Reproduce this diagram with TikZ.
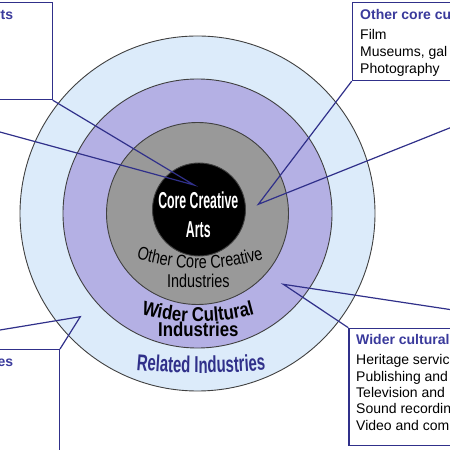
\documentclass[tikz,border=0pt]{standalone}
\usepackage{fontspec}
\setmainfont{Liberation Sans}
\newfontfamily\narrowsans[FakeStretch=0.78]{Liberation Sans}
\newfontfamily\widersans[FakeStretch=0.84]{Liberation Sans}
\newfontfamily\relatedsans[FakeStretch=0.65]{Liberation Sans}
\newfontfamily\coresans[FakeStretch=0.535]{Liberation Sans}
\usetikzlibrary{positioning, decorations.text}

\definecolor{ringblue}{HTML}{DCEBFA}
\definecolor{ringpurple}{HTML}{B4B0E4}
\definecolor{ringgray}{HTML}{999999}
\definecolor{callnavy}{HTML}{30308A}
\definecolor{headblue}{HTML}{3A3A9C}

\begin{document}
\begin{tikzpicture}[x=1pt, y=1pt,
    % Ring and callout styles
    ring/.style={draw=black!75, line width=0.9pt},
    callbox/.style={
        rectangle,
        draw=callnavy,
        line width=1.2pt,
        fill=white,
        inner sep=0pt
    },
    callline/.style={
        callnavy,
        line width=1.2pt
    },
    boxhead/.style={
        font=\bfseries\fontsize{14}{16}\selectfont,
        text=headblue,
        inner sep=0pt,
        anchor=base west
    },
    boxitem/.style={
        font=\fontsize{14}{16}\selectfont,
        inner sep=0pt,
        anchor=base west
    },
    coretext/.style={
        font=\coresans\bfseries\fontsize{23}{26}\selectfont,
        text=white,
        inner sep=0pt,
        anchor=base
    },
    ringtext/.style={
        inner sep=0pt,
        anchor=base
    }
]

\useasboundingbox (0,0) rectangle (450,450);
\clip (0,0) rectangle (450,450);

% === Rings ===
\coordinate (ctr) at (197.5, 236.5);
\draw[ring, fill=ringblue] (ctr) circle[radius=177.5];
\draw[ring, fill=ringpurple] (ctr) circle[radius=134.5];
\draw[ring, fill=ringgray] (ctr) circle[radius=91];
\draw[ring, fill=black] (199, 240.5) circle[radius=46.5];

% === Ring labels ===
\node[coretext] (coretop) at (198.3, 241.7) {Core Creative};
\node[coretext] (corebot) at (198.3, 212.7) {Arts};

\path[decorate, decoration={text along path, text align=center,
    text={|\narrowsans\fontsize{18.5}{20}\selectfont|Other Core Creative}}]
    ([shift={(250:220)}]200, 401.7) arc[start angle=250, end angle=290, radius=220];
\node[ringtext, font=\narrowsans\fontsize{18.5}{20}\selectfont] (othind) at (198.3, 162.7) {Industries};

\path[decorate, decoration={text along path, text align=center,
    text={|\widersans\bfseries\fontsize{20}{22}\selectfont|Wider Cultural}}]
    ([shift={(250:213)}]198, 341.3) arc[start angle=250, end angle=290, radius=213];
\node[ringtext, font=\widersans\bfseries\fontsize{20}{22}\selectfont] (widind) at (198.3, 113.3) {Industries};

\path[decorate, decoration={text along path, text align=center,
    text={|\relatedsans\bfseries\fontsize{23}{25}\selectfont\color{callnavy}|Related Industries}}]
    ([shift={(260:700)}]201, 777) arc[start angle=260, end angle=280, radius=700];

% === Callout boxes ===
\node[callbox, minimum width=250pt, minimum height=97.3pt, anchor=north east] (artbox) at (52.7, 448.3) {};
\node[callbox, minimum width=300pt, minimum height=78pt, anchor=north west] (othbox) at (351.7, 448) {};
\node[callbox, minimum width=260pt, minimum height=200pt, anchor=north east] (relbox) at (60, 101) {};
\node[callbox, minimum width=300pt, minimum height=117.3pt, anchor=north west] (widbox) at (348.3, 122.3) {};

% === Pointers ===
\coordinate (arttip) at (194, 265);
\coordinate (artbase) at (-121, 351);
\coordinate (othtip) at (258.3, 245.7);
\coordinate (othbase) at (570, 370);
\coordinate (widtip) at (283.3, 165.7);
\coordinate (widbase) at (570, 122.3);
\coordinate (reltip) at (80.3, 133.3);
\coordinate (relbase) at (-114.6, 101);

\draw[callline] (artbase) -- (arttip) -- (artbox.south east);
\draw[callline] (othbase) -- (othtip) -- (othbox.south west);
\draw[callline] (widbase) -- (widtip) -- (widbox.north west);
\draw[callline] (relbase) -- (reltip) -- (relbox.north east);

% === Box texts ===
\node[boxhead, anchor=base east] (arthead) at (13.3, 430.7) {rts};

\node[boxhead] (othhead) at (360, 430) {Other core cu};
\foreach \txt [count=\i] in {Film, {Museums, gal}, Photography}
    \node[boxitem] (othitem\i) at (360, 426.7-16.7*\i) {\txt};

\node[boxhead, anchor=base east] (relhead) at (13.3, 83) {es};

\node[boxhead] (widhead) at (356, 105) {Wider cultural};
\foreach \txt [count=\i] in {Heritage servic, Publishing and, Television and, Sound recordin, Video and com}
    \node[boxitem] (widitem\i) at (356, 101.4-16.3*\i) {\txt};

\end{tikzpicture}
\end{document}
